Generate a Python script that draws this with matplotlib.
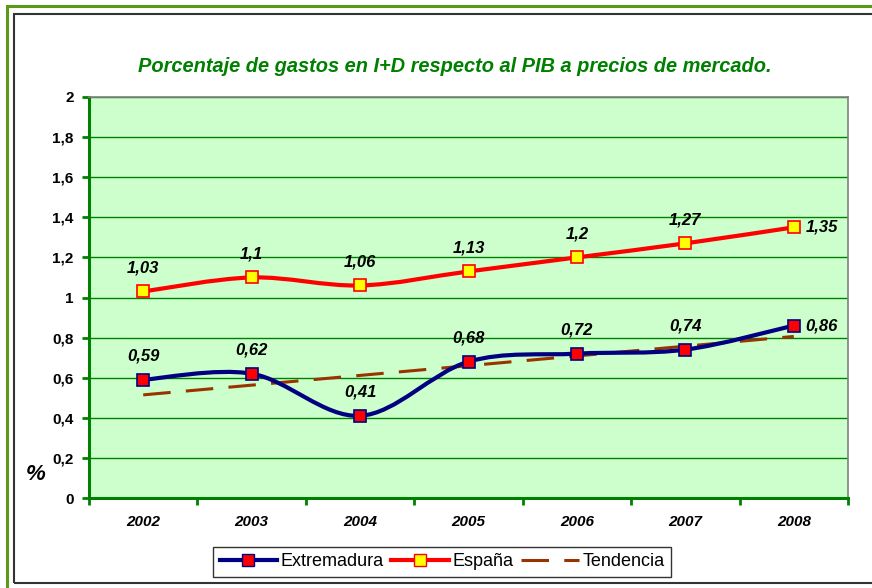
import numpy as np
import matplotlib
matplotlib.use("Agg")
import matplotlib.pyplot as plt
from matplotlib.path import Path
from matplotlib.patches import PathPatch, Rectangle
from matplotlib.lines import Line2D

plt.rcParams['font.family'] = ['Liberation Sans', 'DejaVu Sans']

years = ['2002', '2003', '2004', '2005', '2006', '2007', '2008']
extremadura = [0.59, 0.62, 0.41, 0.68, 0.72, 0.74, 0.86]
espana = [1.03, 1.1, 1.06, 1.13, 1.2, 1.27, 1.35]
yticks = [0, 0.2, 0.4, 0.6, 0.8, 1.0, 1.2, 1.4, 1.6, 1.8, 2.0]
ytick_labels = ['0', '0,2', '0,4', '0,6', '0,8', '1', '1,2', '1,4', '1,6', '1,8', '2']
title = 'Porcentaje de gastos en I+D respecto al PIB a precios de mercado.'

W, H = 872, 588


def fmt(v):
    s = ('%.2f' % v).rstrip('0').rstrip('.')
    return s.replace('.', ',')


def smooth_path(x, y):
    """excel-like smoothed line: cubic bezier through every point"""
    pts = np.column_stack([x, y]).astype(float)
    n = len(pts)
    verts = [pts[0]]
    codes = [Path.MOVETO]
    for i in range(n - 1):
        p0 = pts[max(i - 1, 0)]
        p1 = pts[i]
        p2 = pts[i + 1]
        p3 = pts[min(i + 2, n - 1)]
        c1 = p1 + (p2 - p0) / 6.0
        c2 = p2 - (p3 - p1) / 6.0
        verts += [c1, c2, p2]
        codes += [Path.CURVE4] * 3
    return Path(verts, codes)


fig = plt.figure(figsize=(W / 100, H / 100), dpi=100)

# outer frames
fig.add_artist(Rectangle((7 / W, -0.1), 1.2, (H - 6) / H + 0.1, transform=fig.transFigure,
                         fill=False, edgecolor='#5b9a14', linewidth=2.2))
fig.add_artist(Rectangle((14 / W, (H - 583) / H), 1.2, (583 - 14) / H, transform=fig.transFigure,
                         fill=False, edgecolor='#333333', linewidth=1.5))

ax = fig.add_axes([89 / W, (H - 498) / H, 759 / W, 401 / H])
ax.set_facecolor('#ccffcc')
x = np.arange(len(years))
ax.set_xlim(-0.5, len(years) - 0.5)
ax.set_ylim(0, 2)

ax.set_yticks(yticks)
ax.set_yticklabels(ytick_labels, fontsize=11, fontweight='bold')
ax.grid(axis='y', color='#008000', linewidth=1.0)
ax.set_axisbelow(True)

ax.set_xticks(np.arange(len(years) + 1) - 0.5)
ax.set_xticklabels([])
ax.set_xticks(x, minor=True)
ax.set_xticklabels(years, minor=True, fontsize=11, fontweight='bold', style='italic')
ax.tick_params(axis='x', which='minor', length=0, pad=12)
ax.tick_params(axis='x', which='major', length=5, width=2, color='#008000')
ax.tick_params(axis='y', length=5, width=2, color='#008000', pad=6)

for side in ['top', 'right']:
    ax.spines[side].set_color('#808080')
    ax.spines[side].set_linewidth(1.2)
for side in ['left', 'bottom']:
    ax.spines[side].set_color('#008000')
    ax.spines[side].set_linewidth(2.2)

# trend line for Extremadura
coef = np.polyfit(x, extremadura, 1)
ax.plot(x, np.polyval(coef, x), color='#993300', linewidth=2.2, dashes=(9, 5), zorder=3)

ax.add_patch(PathPatch(smooth_path(x, extremadura), fill=False, edgecolor='#000080',
                       linewidth=3, zorder=4, capstyle='round'))
ax.add_patch(PathPatch(smooth_path(x, espana), fill=False, edgecolor='#ff0000',
                       linewidth=3, zorder=4, capstyle='round'))
ax.plot(x, extremadura, linestyle='none', marker='s', markersize=8,
        markerfacecolor='#ff0000', markeredgecolor='#000080', markeredgewidth=1.2, zorder=5)
ax.plot(x, espana, linestyle='none', marker='s', markersize=8,
        markerfacecolor='#ffff00', markeredgecolor='#ff0000', markeredgewidth=1.2, zorder=5)

for series in [extremadura, espana]:
    for i, v in enumerate(series):
        if i == len(series) - 1:
            ax.annotate(fmt(v), (x[i], v), xytext=(20, 0), textcoords='offset points',
                        ha='center', va='center', fontsize=12, fontweight='bold',
                        style='italic', zorder=6)
        else:
            ax.annotate(fmt(v), (x[i], v), xytext=(0, 17), textcoords='offset points',
                        ha='center', va='center', fontsize=12, fontweight='bold',
                        style='italic', zorder=6)

fig.text(455 / W, 1 - 66 / H, title, ha='center', va='center', color='#008000',
         fontsize=14.4, fontweight='bold', style='italic')
fig.text(36 / W, 1 - 474 / H, '%', ha='center', va='center', fontsize=16,
         fontweight='bold', style='italic')

handles = [
    Line2D([], [], color='#000080', linewidth=3, marker='s', markersize=8,
           markerfacecolor='#ff0000', markeredgecolor='#000080'),
    Line2D([], [], color='#ff0000', linewidth=3, marker='s', markersize=8,
           markerfacecolor='#ffff00', markeredgecolor='#ff0000'),
    Line2D([], [], color='#993300', linewidth=2.2, dashes=(9, 5)),
]
fig.legend(handles, ['Extremadura', 'España', 'Tendencia'], loc='center',
           bbox_to_anchor=(442 / W, 1 - 562 / H), ncol=3, fontsize=13,
           frameon=True, fancybox=False, edgecolor='#333333', framealpha=1,
           handlelength=3.2, handletextpad=0.2, columnspacing=0.4,
           borderpad=0.35)

fig.savefig('out.png', dpi=100)
